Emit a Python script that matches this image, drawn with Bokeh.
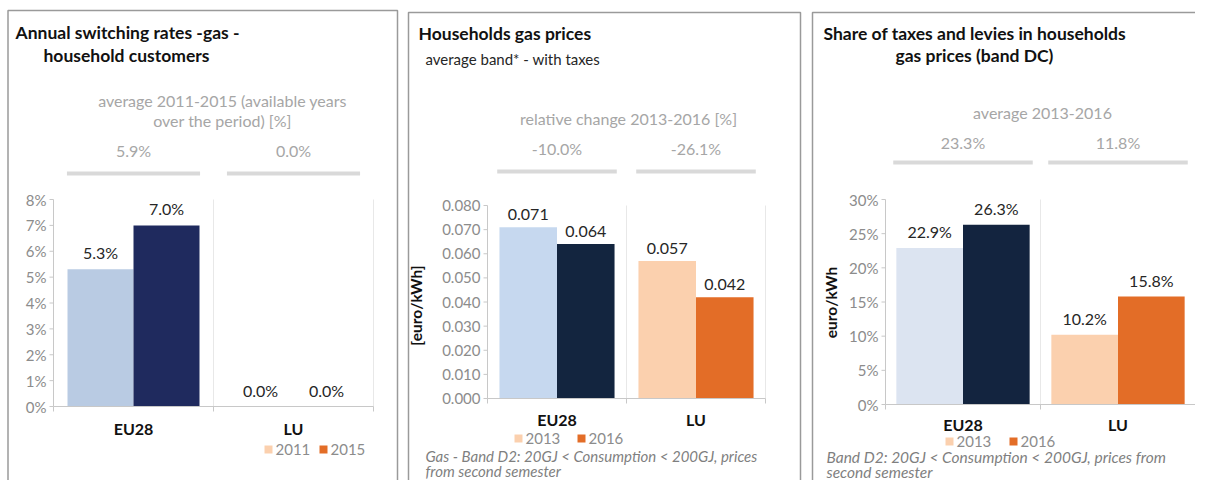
import math
from bokeh.plotting import figure
from bokeh.models import Range1d
from bokeh.core.properties import value
from bokeh.embed import file_html
from bokeh.resources import INLINE

# ---------------- data ----------------
categories = ["EU28", "LU"]

c1_years = ["2011", "2015"]
c1_first = [5.3, 0.0]
c1_second = [7.0, 0.0]
c1_avg = ["5.9%", "0.0%"]
c1_ticks = [0, 1, 2, 3, 4, 5, 6, 7, 8]
c1_tick_labels = ["0%", "1%", "2%", "3%", "4%", "5%", "6%", "7%", "8%"]

c2_years = ["2013", "2016"]
c2_first = [0.071, 0.057]
c2_second = [0.064, 0.042]
c2_change = ["-10.0%", "-26.1%"]
c2_ticks = [0.0, 0.01, 0.02, 0.03, 0.04, 0.05, 0.06, 0.07, 0.08]
c2_tick_labels = ["0.000", "0.010", "0.020", "0.030", "0.040", "0.050", "0.060", "0.070", "0.080"]

c3_years = ["2013", "2016"]
c3_first = [22.9, 10.2]
c3_second = [26.3, 15.8]
c3_avg = ["23.3%", "11.8%"]
c3_ticks = [0, 5, 10, 15, 20, 25, 30]
c3_tick_labels = ["0%", "5%", "10%", "15%", "20%", "25%", "30%"]

# ---------------- style ----------------
FONT = value("Lato")
GREY_TXT = "#8c8c8c"
SUB_TXT = "#a6a6a6"
DARK_TXT = "#262626"
TITLE_C = "#111111"
AXIS_C = "#c8c8c8"
LU_LIGHT = "#fbd0ae"
LU_DARK = "#e36d27"

W, H = 1195, 480
FX0, FX1, FY0, FY1 = 0, W, 0, H

p = figure(width=W, height=H, output_backend="svg", toolbar_location=None,
           x_range=Range1d(FX0, FX1), y_range=Range1d(FY1, FY0),
           min_border=0, outline_line_color=None)
p.axis.visible = False
p.grid.visible = False
p.background_fill_color = "white"


def txt(x, y, s, size="16px", color=DARK_TXT, style="normal", align="left",
        baseline="middle", angle=0.0, **kw):
    p.text(x=x if isinstance(x, list) else [x], y=y if isinstance(y, list) else [y],
           text=s if isinstance(s, list) else [s], text_font=FONT, text_font_size=size,
           text_color=color, text_font_style=style, text_align=align,
           text_baseline=baseline, angle=angle, **kw)


# panel borders
p.quad(left=[7.5, 408], right=[397, 800], top=[10, 12], bottom=[520, 493],
       fill_color=None, line_color="#9a9a9a", line_width=1.5)
p.quad(left=[812], right=[1230], top=[12], bottom=[520],
       fill_color=None, line_color="#9a9a9a", line_width=1.5)


def chart(name, L, R, ybot, ytop, v0, v1, ticks, tick_labels, first, second,
          c_first, c_second, fmt, bar_w, cat_y, top_labels, top_y, line_y, line_half):
    ux = 2.0 / (R - L)
    uy = (v1 - v0) / (ybot - ytop)
    p.extra_x_ranges[name] = Range1d(-(L - FX0) * ux, 2 + (FX1 - R) * ux)
    p.extra_y_ranges[name] = Range1d(v0 - (FY1 - ybot) * uy, v1 + (ytop - FY0) * uy)
    kw = dict(x_range_name=name, y_range_name=name)
    xc = [i + 0.5 for i in range(len(categories))]
    # separators between categories
    p.segment(x0=[1, 2], x1=[1, 2], y0=[v0, v0], y1=[v1, v1], line_color="#e8e8e8",
              line_width=1, **kw)
    p.segment(x0=[0, 1, 2], x1=[0, 1, 2], y0=[ybot] * 3, y1=[ybot + 5] * 3,
              line_color=AXIS_C, x_range_name=name)
    # bars
    p.vbar(x=[c - bar_w / 2 for c in xc], top=first, bottom=0, width=bar_w,
           fill_color=c_first, line_color=None, **kw)
    p.vbar(x=[c + bar_w / 2 for c in xc], top=second, bottom=0, width=bar_w,
           fill_color=c_second, line_color=None, **kw)
    # axes
    p.segment(x0=[0], x1=[2], y0=[v0], y1=[v0], line_color=AXIS_C, line_width=1, **kw)
    p.segment(x0=[L], x1=[L], y0=[v0], y1=[v1], line_color=AXIS_C, line_width=1,
              y_range_name=name)
    p.segment(x0=[L - 4] * len(ticks), x1=[L] * len(ticks), y0=ticks, y1=ticks,
              line_color=AXIS_C, y_range_name=name)
    p.text(x=[L - 7] * len(ticks), y=ticks, text=tick_labels, text_font=FONT,
           text_font_size="15px", text_color=GREY_TXT, text_align="right",
           text_baseline="middle", y_range_name=name)
    # value labels
    for xs, vals in (([c - bar_w / 2 for c in xc], first), ([c + bar_w / 2 for c in xc], second)):
        p.text(x=xs, y=vals, text=[fmt(v) for v in vals],
               text_font=FONT, text_font_size="16px", text_color=DARK_TXT,
               text_align="center", text_baseline="bottom", y_offset=-7, **kw)
    # category labels
    p.text(x=xc, y=[cat_y] * 2, text=categories, text_font=FONT, text_font_size="16px",
           text_font_style="bold", text_color=TITLE_C, text_align="center",
           text_baseline="middle", x_range_name=name)
    # summary above
    p.text(x=xc, y=[top_y] * 2, text=top_labels, text_font=FONT, text_font_size="16px",
           text_color=SUB_TXT, text_align="center", text_baseline="middle",
           x_range_name=name)
    p.segment(x0=[c - line_half for c in xc], x1=[c + line_half for c in xc],
              y0=[line_y] * 2, y1=[line_y] * 2, line_color="#d9d9d9", line_width=4,
              x_range_name=name)


pct = lambda v: f"{v:.1f}%"
dec = lambda v: f"{v:.3f}"

# chart 1
chart("c1", 53, 373, 406, 199, 0, 8, c1_ticks, c1_tick_labels, c1_first, c1_second,
      ["#b9cbe3", LU_LIGHT], ["#1f2a5e", LU_DARK], pct, 0.4125, 428, c1_avg, 150, 173, 0.416)
txt(15, 32, "Annual switching rates -gas -", size="17.5px", style="bold", color=TITLE_C)
txt(43, 55, "household customers", size="17.5px", style="bold", color=TITLE_C)
txt(222, 100, "average 2011-2015 (available years", color=SUB_TXT, align="center")
txt(222, 120, "over the period) [%]", color=SUB_TXT, align="center")
p.scatter(x=[268, 323], y=[449, 449], marker="square", size=8,
          fill_color=[LU_LIGHT, LU_DARK], line_color=None)
txt([275, 330], [449, 449], c1_years, size="15px", color=GREY_TXT)

# chart 2
chart("c2", 487, 765, 398, 205, 0, 0.08, c2_ticks, c2_tick_labels, c2_first, c2_second,
      ["#c6d8ef", LU_LIGHT], ["#13253f", LU_DARK], dec, 0.414, 419, c2_change, 148, 171, 0.43)
txt(418, 33, "Households gas prices", size="17.5px", style="bold", color=TITLE_C)
txt(425, 58, "average band* - with taxes", size="15px", color="#262626")
txt(628, 118, "relative change 2013-2016 [%]", color=SUB_TXT, align="center")
txt(415, 305, "[euro/kWh]", size="15.5px", style="bold", color=TITLE_C, align="center",
    angle=math.pi / 2)
p.scatter(x=[518, 581], y=[438, 438], marker="square", size=8,
          fill_color=[LU_LIGHT, LU_DARK], line_color=None)
txt([525, 588], [438, 438], c2_years, size="15px", color=GREY_TXT)
txt(425, 455, "Gas - Band D2: 20GJ < Consumption < 200GJ, prices", size="15px",
    color="#7f7f7f", style="italic")
txt(425, 470, "from second semester", size="15px", color="#7f7f7f", style="italic")

# chart 3
chart("c3", 885, 1195, 404, 199, 0, 30, c3_ticks, c3_tick_labels, c3_first, c3_second,
      ["#dce4f1", LU_LIGHT], ["#13243f", LU_DARK], pct, 0.43, 424, c3_avg, 142, 162, 0.45)
txt(823, 33, "Share of taxes and levies in households", size="17.5px", style="bold", color=TITLE_C)
txt(895, 55, "gas prices (band DC)", size="17.5px", style="bold", color=TITLE_C)
txt(1042, 112, "average 2013-2016", color=SUB_TXT, align="center")
txt(830, 302, "euro/kWh", size="15.5px", style="bold", color=TITLE_C, align="center",
    angle=math.pi / 2)
p.scatter(x=[949, 1013], y=[441, 441], marker="square", size=8,
          fill_color=[LU_LIGHT, LU_DARK], line_color=None)
txt([956, 1020], [441, 441], c3_years, size="15px", color=GREY_TXT)
txt(826, 456, "Band D2: 20GJ < Consumption < 200GJ, prices from", size="15.5px",
    color="#7f7f7f", style="italic")
txt(826, 471, "second semester", size="15.5px", color="#7f7f7f", style="italic")

open("out.html", "w").write(file_html(p, INLINE))
